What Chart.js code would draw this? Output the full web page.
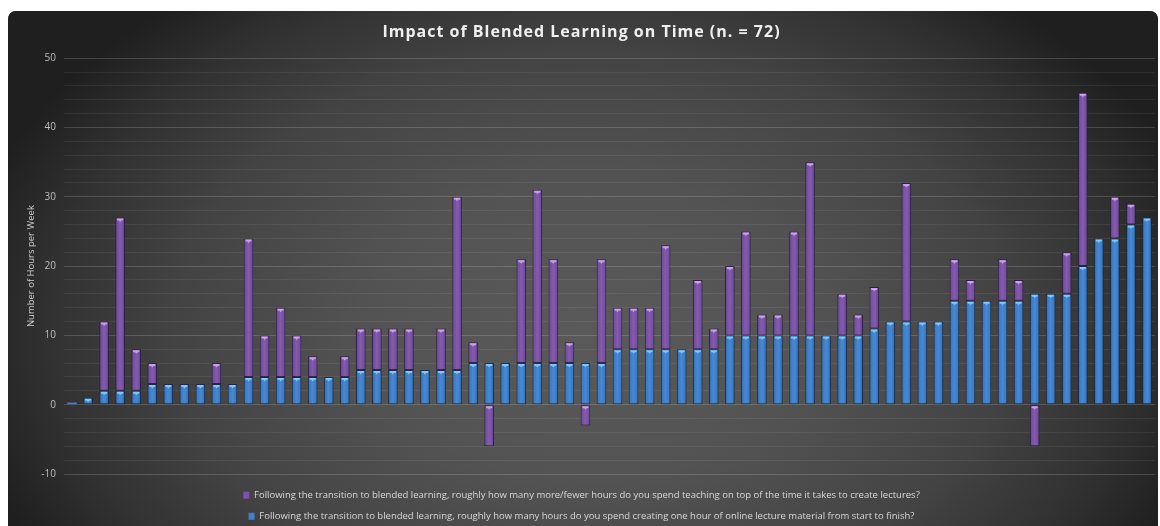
<!DOCTYPE html>
<html>
<head>
<meta charset="utf-8">
<script src="https://cdn.jsdelivr.net/npm/chart.js@4.4.1/dist/chart.umd.min.js"></script>
<style>
html,body{margin:0;padding:0;background:#ffffff;}
#wrap{width:1160px;height:526px;position:relative;}
</style>
</head>
<body>
<div id="wrap"><canvas id="c" width="1160" height="526"></canvas></div>
<script>
// ---- data ----
const categories = [
  "1","2","3","4","5","6","7","8","9","10","11","12","13","14","15","16","17",
  "18","19","20","21","22","23","24","25","26","27","28","29","30","31","32","33","34",
  "35","36","37","38","39","40","41","42","43","44","45","46","47","48","49","50","51",
  "52","53","54","55","56","57","58","59","60","61","62","63","64","65","66","67","68"
];
// hours spent creating one hour of online lecture material
const creationHours = [
  0.3,1,2,2,2,3,3,3,3,3,3,4,4,4,4,4,4,
  4,5,5,5,5,5,5,5,6,6,6,6,6,6,6,6,6,
  8,8,8,8,8,8,8,10,10,10,10,10,10,10,10,10,11,
  12,12,12,12,15,15,15,15,15,16,16,16,20,24,24,26,27
];
// more/fewer hours spent teaching on top of lecture creation
const teachingHours = [
  0,0,10,25,6,3,0,0,0,3,0,20,6,10,6,3,0,
  3,6,6,6,6,0,6,25,3,-6,0,15,25,15,3,-3,15,
  6,6,6,15,0,10,3,10,15,3,3,15,25,0,6,3,6,
  0,20,0,0,6,3,0,6,3,-6,0,6,25,0,6,3,0
];
const yTickLabels = [-10, 0, 10, 20, 30, 40, 50];

const titleText = "Impact of Blended Learning on Time (n. = 72)";
const yAxisTitle = "Number of Hours per Week";
const seriesTeaching = "Following the transition to blended learning, roughly how many more/fewer hours do you spend teaching on top of the time it takes to create lectures?";
const seriesCreation = "Following the transition to blended learning, roughly how many hours do you spend creating one hour of online lecture material from start to finish?";

// ---- background plugin ----
const bgPlugin = {
  id: 'bg',
  afterInit(chart) {
    // give the library's title block a little letter spacing
    const tb = chart.titleBlock;
    if (tb && !tb._spaced) {
      const orig = tb.draw.bind(tb);
      tb.draw = function () {
        const c = this.ctx;
        const prev = c.letterSpacing;
        c.letterSpacing = '1px';
        orig();
        c.letterSpacing = prev || '0px';
      };
      tb._spaced = true;
    }
  },
  beforeDraw(chart) {
    const ctx = chart.ctx;
    const W = chart.width, H = chart.height;
    ctx.save();
    ctx.fillStyle = '#ffffff';
    ctx.fillRect(0, 0, W, H);
    const x0 = 8, y0 = 11, x1 = 1158, y1 = H + 20, r = 9;
    ctx.beginPath();
    ctx.moveTo(x0 + r, y0);
    ctx.lineTo(x1 - r, y0);
    ctx.quadraticCurveTo(x1, y0, x1, y0 + r);
    ctx.lineTo(x1, y1);
    ctx.lineTo(x0, y1);
    ctx.lineTo(x0, y0 + r);
    ctx.quadraticCurveTo(x0, y0, x0 + r, y0);
    ctx.closePath();
    ctx.clip();
    ctx.fillStyle = '#1e1e1e';
    ctx.fillRect(x0, y0, x1 - x0, y1 - y0);
    const cx = 590, cy = 330, rx = 640, ry = 430;
    ctx.translate(cx, cy);
    ctx.scale(1, ry / rx);
    const g = ctx.createRadialGradient(0, 0, 0, 0, 0, rx);
    g.addColorStop(0, '#5a5a5a');
    g.addColorStop(0.35, '#535353');
    g.addColorStop(0.65, '#434343');
    g.addColorStop(0.85, '#313131');
    g.addColorStop(1, '#1f1f1f');
    ctx.fillStyle = g;
    ctx.fillRect(-cx - 10, -cy * rx / ry - 10, 1200, 1200 * rx / ry);
    ctx.restore();
  }
};

// ---- bevel decoration drawn over library bar elements ----
const bevelPlugin = {
  id: 'bevel',
  afterDatasetsDraw(chart) {
    const ctx = chart.ctx;
    chart.data.datasets.forEach((ds, di) => {
      const meta = chart.getDatasetMeta(di);
      const light = ds.capColor;
      meta.data.forEach((el, i) => {
        if (!ds.data[i]) return;
        const p = el.getProps(['x', 'y', 'base', 'width'], true);
        const left = p.x - p.width / 2;
        const top = Math.min(p.y, p.base);
        const bottom = Math.max(p.y, p.base);
        const h = bottom - top;
        if (h < 4) return;
        ctx.save();
        const g = ctx.createLinearGradient(left, 0, left + p.width, 0);
        g.addColorStop(0, 'rgba(0,0,0,0.28)');
        g.addColorStop(0.18, 'rgba(0,0,0,0.05)');
        g.addColorStop(0.5, 'rgba(255,255,255,0.06)');
        g.addColorStop(0.82, 'rgba(0,0,0,0.05)');
        g.addColorStop(1, 'rgba(0,0,0,0.28)');
        ctx.fillStyle = g;
        ctx.fillRect(left + 1, top + 1, p.width - 2, h - 2);
        ctx.fillStyle = light;
        ctx.beginPath();
        ctx.moveTo(left + 1.5, top + 1);
        ctx.lineTo(left + p.width - 1.5, top + 1);
        ctx.lineTo(left + p.width - 2, top + 3);
        ctx.lineTo(p.x + 1, top + 3);
        ctx.lineTo(p.x, top + 4.5);
        ctx.lineTo(p.x - 1, top + 3);
        ctx.lineTo(left + 2, top + 3);
        ctx.closePath();
        ctx.fill();
        ctx.restore();
      });
    });
  }
};

const barBorder = c => (c.raw && Math.abs(c.raw) >= 1 ? 1 : 0);

const ctx = document.getElementById('c').getContext('2d');
new Chart(ctx, {
  type: 'bar',
  data: {
    labels: categories,
    datasets: [
      {
        label: seriesCreation,
        data: creationHours,
        backgroundColor: '#3c82d2',
        borderColor: 'rgba(20,40,70,0.85)',
        borderWidth: barBorder,
        borderSkipped: false,
        capColor: 'rgba(140,210,255,0.85)',
        categoryPercentage: 1.0,
        barPercentage: 0.6,
        stack: 's'
      },
      {
        label: seriesTeaching,
        data: teachingHours,
        backgroundColor: '#7c52aa',
        borderColor: 'rgba(45,25,65,0.85)',
        borderWidth: barBorder,
        borderSkipped: false,
        capColor: 'rgba(215,175,245,0.85)',
        categoryPercentage: 1.0,
        barPercentage: 0.6,
        stack: 's'
      }
    ]
  },
  options: {
    responsive: false,
    animation: false,
    layout: { padding: { left: 8, right: 5, top: 0, bottom: 0 } },
    plugins: {
      title: {
        display: true,
        text: titleText,
        color: '#f0f0f0',
        font: { family: 'Open Sans', size: 16, weight: 'bold' },
        padding: { top: 23, bottom: 16 }
      },
      legend: {
        display: true,
        position: 'bottom',
        reverse: true,
        maxHeight: 47,
        labels: {
          color: '#d9d9d9',
          font: { family: "'Liberation Sans Narrow', 'Open Sans', sans-serif", size: 9.5 },
          boxWidth: 6,
          boxHeight: 7,
          padding: 11.5
        }
      },
      tooltip: { enabled: false }
    },
    scales: {
      x: {
        display: true,
        stacked: true,
        afterFit(scale) { scale.height = 5; },
        grid: { display: false },
        border: { display: false },
        ticks: { display: false }
      },
      y: {
        stacked: true,
        min: -10,
        max: 50,
        afterFit(scale) { scale.width = 56; },
        border: { display: false },
        grid: {
          drawTicks: false,
          color: c => (yTickLabels.includes(c.tick.value) ? 'rgba(255,255,255,0.16)' : 'rgba(255,255,255,0.07)'),
          lineWidth: 1
        },
        ticks: {
          stepSize: 2,
          autoSkip: false,
          padding: 8,
          color: '#bfbfbf',
          font: { family: 'Open Sans', size: 10 },
          callback: v => (yTickLabels.includes(v) ? String(v) : '')
        },
        title: {
          display: true,
          text: yAxisTitle,
          color: '#d0d0d0',
          font: { family: 'Open Sans', size: 9.5 },
          padding: { top: 18, bottom: 0 }
        }
      }
    }
  },
  plugins: [bgPlugin, bevelPlugin]
});
</script>
</body>
</html>
